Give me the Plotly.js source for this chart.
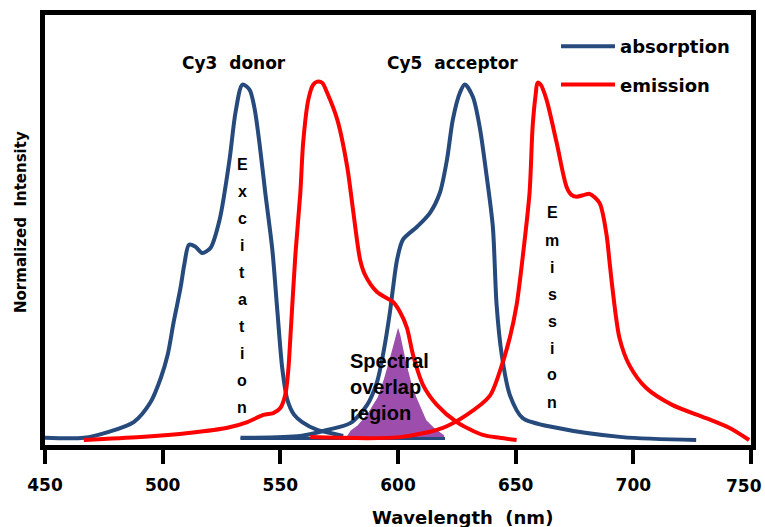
<!DOCTYPE html>
<html>
<head>
<meta charset="utf-8">
<script src="https://cdn.plot.ly/plotly-3.0.1.min.js"></script>
<style>html,body{margin:0;padding:0;background:#fff;}#chart{width:765px;height:527px;}</style>
</head>
<body>
<div id="chart"></div>
<script>
// ---- data (wavelength in nm, normalized intensity) ----
const cy3AbsWl  = [450, 466.5, 476.7, 487.7, 494.9, 499.2, 502.1, 504.7, 507.6, 509.2, 511.2, 513.8, 516.8, 520.3, 524.2, 528.4, 531.0, 533.9, 536.9, 539.0, 541.1, 543.6, 546.6, 548.7, 550.8, 553.0, 555.9, 559.3, 565.7, 570.8, 576.7];
const cy3AbsInt = [0.006, 0.006, 0.022, 0.050, 0.106, 0.173, 0.237, 0.330, 0.425, 0.490, 0.545, 0.540, 0.522, 0.536, 0.615, 0.782, 0.916, 0.992, 0.978, 0.927, 0.830, 0.690, 0.531, 0.363, 0.201, 0.112, 0.070, 0.050, 0.028, 0.020, 0.011];

const cy5AbsWl  = [533.1, 558.5, 569.9, 579.7, 586.9, 591.1, 593.6, 596.6, 597.9, 599.6, 602.1, 608.1, 613.6, 617.8, 620.8, 623.3, 626.3, 628.4, 631.8, 634.7, 637.7, 640.3, 641.9, 644.1, 647.5, 653.0, 667.4, 695.3, 726.7];
const cy5AbsInt = [0.006, 0.011, 0.028, 0.047, 0.098, 0.162, 0.237, 0.358, 0.425, 0.503, 0.559, 0.595, 0.634, 0.690, 0.782, 0.894, 0.969, 0.992, 0.958, 0.874, 0.735, 0.595, 0.377, 0.237, 0.126, 0.061, 0.034, 0.008, 0.0];

const cy3EmWl  = [466.5, 490.7, 511.9, 527.5, 536.0, 542.8, 547.0, 550.0, 552.1, 553.4, 554.2, 556.4, 558.5, 559.7, 561.9, 564.0, 565.7, 567.8, 569.9, 574.2, 578.4, 580.9, 583.9, 586.0, 591.1, 597.9, 600.8, 603.8, 606.4, 610.6, 616.5, 625.0, 636.0, 643.2, 650.4];
const cy3EmInt = [0.0, 0.008, 0.020, 0.034, 0.050, 0.070, 0.075, 0.089, 0.126, 0.196, 0.279, 0.517, 0.690, 0.830, 0.950, 0.992, 1.0, 0.997, 0.969, 0.894, 0.763, 0.642, 0.503, 0.461, 0.413, 0.385, 0.358, 0.313, 0.237, 0.154, 0.098, 0.050, 0.014, 0.006, 0.0];

const cy5EmWl  = [562.7, 600.8, 619.1, 629.2, 639.0, 643.2, 647.5, 650.4, 653.0, 655.9, 657.2, 658.5, 659.3, 660.6, 663.1, 667.4, 671.6, 673.7, 675.8, 679.2, 681.4, 685.6, 688.6, 689.8, 691.1, 694.1, 698.3, 705.5, 716.5, 730.9, 740.7, 749.2];
const cy5EmInt = [0.008, 0.008, 0.034, 0.070, 0.123, 0.190, 0.285, 0.377, 0.511, 0.690, 0.874, 0.964, 0.997, 0.992, 0.950, 0.830, 0.707, 0.684, 0.679, 0.684, 0.687, 0.662, 0.573, 0.503, 0.425, 0.285, 0.209, 0.145, 0.098, 0.061, 0.034, 0.0];

const overlapWl  = [577.5, 579.7, 582.6, 586.9, 591.1, 593.6, 596.6, 598.7, 600.0, 601.3, 602.5, 603.8, 605.9, 608.1, 612.3, 615.7, 619.9, 619.9];
const overlapInt = [0.006, 0.028, 0.042, 0.075, 0.120, 0.168, 0.237, 0.293, 0.321, 0.293, 0.257, 0.215, 0.162, 0.120, 0.056, 0.034, 0.014, 0.006];

const baselineWl  = [533.1, 620.0];
const baselineInt = [0.004, 0.004];

const xTicks = [450, 500, 550, 600, 650, 700, 750];
const xTickLabels = ["450", "500", "550", "600", "650", "700", "750"];
const seriesNames = ["absorption", "emission"];
const dyeLabels = ["Cy3  donor", "Cy5  acceptor"];
const sideWords = ["Excitation", "Emission"];

// ---- styles ----
const BLUE = "#254a7b", RED = "#ff0000", PURPLE = "#9d4dab";
const W = 765, H = 527, L = 45, R = 14, T = 15, B = 82;
const pw = W - L - R, ph = H - T - B;
const px = x => (x - L) / pw;        // pixel -> paper
const py = y => (H - B - y) / ph;

const traces = [
  {x: overlapWl, y: overlapInt, type: "scatter", mode: "lines", fill: "toself", fillcolor: PURPLE,
   line: {color: "#ffffff", width: 1.5}, showlegend: false, hoverinfo: "skip"},
  {x: baselineWl, y: baselineInt, type: "scatter", mode: "lines", line: {color: BLUE, width: 3},
   showlegend: false, legendgroup: "a"},
  {x: cy3AbsWl, y: cy3AbsInt, type: "scatter", mode: "lines", name: seriesNames[0], legendgroup: "a",
   line: {color: BLUE, width: 4, shape: "spline", smoothing: 0.8}},
  {x: cy5AbsWl, y: cy5AbsInt, type: "scatter", mode: "lines", name: seriesNames[0], legendgroup: "a", showlegend: false,
   line: {color: BLUE, width: 4, shape: "spline", smoothing: 0.8}},
  {x: cy3EmWl, y: cy3EmInt, type: "scatter", mode: "lines", name: seriesNames[1], legendgroup: "e",
   line: {color: RED, width: 4, shape: "spline", smoothing: 0.8}},
  {x: cy5EmWl, y: cy5EmInt, type: "scatter", mode: "lines", name: seriesNames[1], legendgroup: "e", showlegend: false,
   line: {color: RED, width: 4, shape: "spline", smoothing: 0.8}}
];

const tickFont = {family: "DejaVu Sans", size: 17, color: "#000", weight: "bold"};
const boldWide = {family: "DejaVu Sans", size: 17, color: "#000", weight: "bold"};
const arialBold = {family: "Liberation Sans, Arial", size: 16, color: "#000", weight: "bold"};
const ann = (o) => Object.assign({xref: "paper", yref: "paper", showarrow: false, xanchor: "center", yanchor: "middle"}, o);

const annotations = [
  ann({text: dyeLabels[0], x: px(234), y: py(63), font: boldWide}),
  ann({text: dyeLabels[1], x: px(452), y: py(63), font: boldWide}),
  ann({text: "Spectral<br>overlap<br>region", x: px(348), y: py(387), xanchor: "left", align: "left",
       font: {family: "Liberation Sans, Arial", size: 20, color: "#000", weight: "bold"}}),
  ann({text: "Wavelength  (nm)", x: px(462), y: py(517),
       font: {family: "DejaVu Sans", size: 18, color: "#000", weight: "bold"}}),
  ann({text: "Normalized  Intensity", x: px(21), y: py(222), textangle: -90,
       font: {family: "DejaVu Sans", size: 15, color: "#000", weight: "bold"}}),
  // last tick label sits at the page edge: keep it inside the page
  ann({text: xTickLabels[xTickLabels.length - 1], x: px(764), y: py(486), xanchor: "right", font: tickFont})
];
sideWords[0].split("").forEach((ch, i) => annotations.push(ann({text: ch, x: px(242), y: py(164 + 27.1 * i), font: arialBold})));
sideWords[1].split("").forEach((ch, i) => annotations.push(ann({text: ch, x: px(552), y: py(213 + 27 * i), font: arialBold})));

const layout = {
  width: W, height: H,
  margin: {l: L, r: R, t: T, b: B, pad: 0},
  paper_bgcolor: "#fff", plot_bgcolor: "#fff",
  showlegend: true,
  legend: {x: px(556), y: py(28), xanchor: "left", yanchor: "top", bgcolor: "rgba(0,0,0,0)",
           font: {family: "DejaVu Sans", size: 18, color: "#000", weight: "bold"},
           itemwidth: 54, tracegroupgap: 12, traceorder: "grouped"},
  xaxis: {range: [450, 750], tickvals: xTicks, ticktext: xTickLabels.map((t, i) => i === xTickLabels.length - 1 ? "" : t),
          ticks: "outside", ticklen: 14, tickwidth: 4,
          tickcolor: "#000", showline: true, linewidth: 5, linecolor: "#000", mirror: true, showgrid: false,
          zeroline: false, ticklabelstandoff: 7, ticklabeloverflow: "allow", tickfont: tickFont},
  yaxis: {range: [-0.014, 1.186], showticklabels: false, ticks: "", showline: true, linewidth: 5, linecolor: "#000",
          mirror: true, showgrid: false, zeroline: false},
  annotations: annotations
};

Plotly.newPlot("chart", traces, layout, {displayModeBar: false, staticPlot: true});
</script>
</body>
</html>
